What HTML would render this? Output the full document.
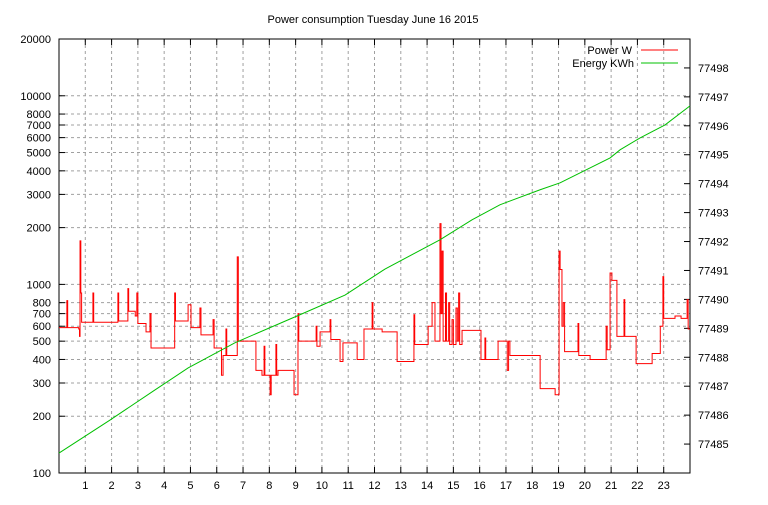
<!DOCTYPE html>
<html><head><meta charset="utf-8"><style>
body{margin:0;background:#fff}
svg text{font-family:"Liberation Sans","DejaVu Sans",sans-serif;font-size:11px;fill:#000}
</style></head><body>
<svg id="chart" width="768" height="500" xmlns="http://www.w3.org/2000/svg">
<rect width="768" height="500" fill="#fff"/>
<text x="373" y="23" text-anchor="middle">Power consumption Tuesday June 16 2015</text>
<g id="grid"></g><g id="axes"></g><g id="series"></g>
<g>
<text x="632" y="54" text-anchor="end">Power W</text>
<line x1="641" y1="50" x2="678" y2="50" stroke="#ff0000"/>
<text x="634" y="67" text-anchor="end">Energy KWh</text>
<line x1="641" y1="63" x2="678" y2="63" stroke="#00c000"/>
</g>
</svg>
<script>
const hours=[0,0.30,0.33,0.75,0.78,0.80,0.83,0.86,1.29,1.32,2.24,2.27,2.62,2.65,2.90,2.96,3.00,3.31,3.46,3.50,4.40,4.43,4.91,5.02,5.36,5.40,5.86,5.90,6.18,6.24,6.35,6.38,6.78,6.82,7.49,7.72,7.80,7.83,8.03,8.07,8.25,8.28,8.33,8.94,9.05,9.09,9.12,9.78,9.81,9.93,10.31,10.34,10.69,10.80,11.34,11.60,11.91,11.94,12.29,12.86,13.50,13.53,14.04,14.19,14.30,14.49,14.53,14.57,14.61,14.70,14.74,14.82,14.86,14.95,15.0,15.1,15.15,15.2,15.24,15.33,16.05,16.20,16.23,16.70,17.05,17.10,17.15,18.30,18.87,19.02,19.06,19.13,19.18,19.23,19.74,19.77,20.20,20.81,20.85,20.96,21.03,21.22,21.49,21.52,21.95,22.56,22.87,22.97,23.00,23.43,23.66,23.89,23.93,24];
const watts=[590,820,590,580,530,1700,900,630,900,630,900,640,950,720,680,900,620,560,700,460,900,640,780,590,750,540,650,460,330,420,580,420,1400,500,350,330,470,330,260,330,480,330,350,260,260,700,500,600,470,560,650,510,390,490,400,580,800,580,560,390,690,480,600,800,500,2100,700,1500,500,900,500,800,480,650,480,750,500,900,480,570,400,520,400,500,350,500,420,280,260,1500,1200,600,800,440,620,420,400,600,450,1150,1050,530,830,530,380,430,600,1100,660,680,660,830,580,580];
const eHours=[0,1.94,3.65,4.91,6.69,9.24,10.88,12.40,14.49,15.71,16.77,18.30,19.06,20.96,21.34,22.10,23.05,24];
const energy=[77484.69,77485.83,77486.87,77487.63,77488.50,77489.50,77490.15,77491.05,77492.06,77492.75,77493.27,77493.79,77494.03,77494.89,77495.17,77495.58,77496.03,77496.69];
const yTicks=[100,200,300,400,500,600,700,800,1000,2000,3000,4000,5000,6000,7000,8000,10000,20000];
const y2Ticks=[77485,77486,77487,77488,77489,77490,77491,77492,77493,77494,77495,77496,77497,77498];
const xTicks=[1,2,3,4,5,6,7,8,9,10,11,12,13,14,15,16,17,18,19,20,21,22,23];
const L=59,R=690,T=39,B=473;
const X=h=>L+(R-L)*h/24;
const Y=v=>B-(B-T)*Math.log10(v/100)/Math.log10(200);
const Y2=v=>B-(B-T)*(v-77484)/15;
const NS="http://www.w3.org/2000/svg";
function mk(tag,parent,attrs){const e=document.createElementNS(NS,tag);for(const k in attrs)e.setAttribute(k,attrs[k]);document.getElementById(parent).appendChild(e);return e;}
xTicks.forEach(t=>{const x=X(t);
const g=mk('line','grid',{x1:x,y1:T,x2:x,y2:B,stroke:'#a0a0a0','stroke-dasharray':'3,3'});

mk('line','axes',{x1:x,y1:B,x2:x,y2:B-6,stroke:'#000'});mk('line','axes',{x1:x,y1:T,x2:x,y2:T+6,stroke:'#000'});
const tx=mk('text','axes',{x:x,y:B+16,'text-anchor':'middle'});tx.textContent=t;
});
yTicks.forEach(t=>{const y=Y(t);
if(t>100&&t<20000){const g=mk('line','grid',{x1:L,y1:y,x2:R,y2:y,stroke:'#a0a0a0','stroke-dasharray':'3,3'});
}
mk('line','axes',{x1:L,y1:y,x2:L+6,y2:y,stroke:'#000'});
const tx=mk('text','axes',{x:L-8,y:y+4,'text-anchor':'end'});tx.textContent=t;
});
y2Ticks.forEach(t=>{const y=Y2(t);
mk('line','axes',{x1:R,y1:y,x2:R-6,y2:y,stroke:'#000'});
const tx=mk('text','axes',{x:R+8,y:y+4});tx.textContent=t;
});
const fr=mk('rect','axes',{x:L,y:T,width:R-L,height:B-T,fill:'none',stroke:'#000'});

let d='M'+X(hours[0])+','+Y(watts[0]);
for(let i=1;i<hours.length;i++){d+='L'+X(hours[i])+','+Y(watts[i-1])+'L'+X(hours[i])+','+Y(watts[i]);}
const p=mk('path','series',{d:d,fill:'none',stroke:'#ff0000','stroke-width':1});

const e=mk('path','series',{d:eHours.map((h,i)=>(i?'L':'M')+X(h)+','+Y2(energy[i])).join(''),fill:'none',stroke:'#00c000','stroke-width':1});

</script>
</body></html>
